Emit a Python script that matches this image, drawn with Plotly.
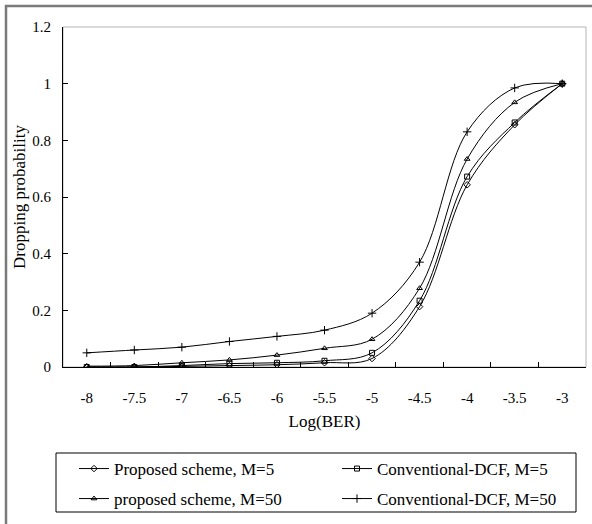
import plotly.graph_objects as go

categories = ["-8", "-7.5", "-7", "-6.5", "-6", "-5.5", "-5", "-4.5", "-4", "-3.5", "-3"]

proposed_m5 = [0.0, 0.0, 0.002, 0.005, 0.008, 0.015, 0.03, 0.213, 0.643, 0.855, 1.0]
conventional_m5 = [0.0, 0.0, 0.005, 0.012, 0.015, 0.022, 0.05, 0.234, 0.672, 0.863, 1.0]
proposed_m50 = [0.003, 0.005, 0.015, 0.025, 0.042, 0.066, 0.098, 0.278, 0.734, 0.934, 1.0]
conventional_m50 = [0.05, 0.06, 0.07, 0.09, 0.108, 0.13, 0.19, 0.37, 0.83, 0.985, 1.0]

series = [
    ("Proposed scheme, M=5", proposed_m5, "diamond-open", 5, "legend"),
    ("Conventional-DCF, M=5", conventional_m5, "square-open", 5, "legend2"),
    ("proposed scheme, M=50", proposed_m50, "triangle-up-open", 5, "legend3"),
    ("Conventional-DCF, M=50", conventional_m50, "cross-thin", 6, "legend4"),
]

FONT = "Liberation Serif, Times New Roman, serif"

fig = go.Figure()
for name, vals, sym, sz, lg in series:
    fig.add_trace(go.Scatter(
        x=categories, y=vals, name=name, mode="lines+markers", legend=lg,
        line=dict(color="black", width=1, shape="spline", smoothing=1.0),
        marker=dict(symbol=sym, size=sz, color="black",
                    line=dict(color="black", width=1)),
    ))

W, H = 592, 524
L, R, T, B = 63, 6, 27, 157
pw = W - L - R
ph = H - T - B

def px_x(p):
    return (p - L) / pw

def px_y(p):
    return (H - B - p) / ph

leg_common = dict(
    orientation="h", xanchor="left", yanchor="top",
    borderwidth=0, bgcolor="rgba(0,0,0,0)",
    font=dict(family=FONT, size=17),
    itemwidth=30,
)

col1, col2 = 74, 337
row1, row2 = 451, 481

fig.update_layout(
    width=W, height=H,
    margin=dict(l=L, r=R, t=T, b=B, autoexpand=False),
    paper_bgcolor="white", plot_bgcolor="white",
    font=dict(family=FONT, size=16, color="black"),
    showlegend=True,
    legend=dict(x=px_x(col1), y=px_y(row1), **leg_common),
    legend2=dict(x=px_x(col2), y=px_y(row1), **leg_common),
    legend3=dict(x=px_x(col1), y=px_y(row2), **leg_common),
    legend4=dict(x=px_x(col2), y=px_y(row2), **leg_common),
    xaxis=dict(
        type="category", range=[-0.5, len(categories) - 0.5],
        showline=True, linecolor="black", linewidth=1,
        ticks="inside", ticklen=5, tickcolor="black", tickson="boundaries",
        showgrid=False, zeroline=False,
        tickfont=dict(family=FONT, size=15),
        ticklabelstandoff=17,
        title=dict(text="Log(BER)", font=dict(family=FONT, size=17), standoff=10),
    ),
    yaxis=dict(
        range=[0, 1.2], dtick=0.2,
        showline=True, linecolor="black", linewidth=1,
        ticks="inside", ticklen=5, tickcolor="black",
        showgrid=False, zeroline=False,
        tickfont=dict(family=FONT, size=15),
        ticklabelstandoff=8,
        title=dict(text="Dropping probability", font=dict(family=FONT, size=17), standoff=2),
    ),
    shapes=[
        dict(type="rect", xref="paper", yref="paper", x0=0, x1=1, y0=0, y1=1,
             line=dict(color="#b4b4b4", width=1), layer="below"),
        dict(type="rect", xref="paper", yref="paper",
             x0=px_x(6), x1=px_x(640), y0=px_y(600), y1=px_y(6),
             line=dict(color="#7a7a7a", width=2.5), layer="below"),
        dict(type="rect", xref="paper", yref="paper",
             x0=px_x(56), x1=px_x(576), y0=px_y(512), y1=px_y(453),
             line=dict(color="black", width=1), layer="below"),
    ],
)

fig.write_html("out.html")
